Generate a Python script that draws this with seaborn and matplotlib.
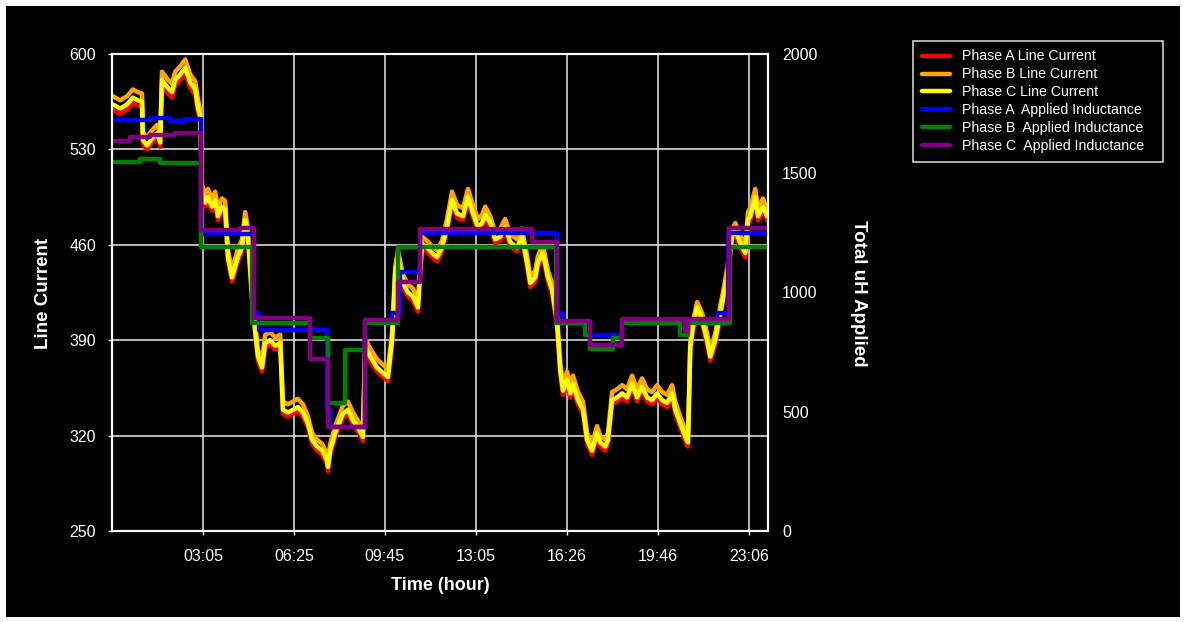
import seaborn as sns
import matplotlib.pyplot as plt
from matplotlib.patches import Rectangle

# time axis in minutes from midnight (chart starts a little before 00:00)
current_minutes = [
    -13, 3, 18, 31, 42, 51, 53, 62, 73, 84,
    91, 95, 106, 117, 124, 135, 146, 157, 168, 174,
    179, 183, 190, 196, 205, 212, 218, 227, 234, 240,
    249, 256, 262, 271, 278, 284, 293, 300, 306, 315,
    322, 333, 344, 355, 361, 372, 383, 394, 405, 416,
    425, 436, 447, 458, 460, 465, 476, 493, 504, 515,
    526, 537, 542, 553, 568, 581, 592, 601, 608, 614,
    625, 636, 647, 658, 667, 678, 689, 700, 711, 722,
    733, 744, 757, 768, 779, 790, 799, 806, 817, 828,
    839, 850, 861, 876, 887, 898, 905, 916, 922, 933,
    944, 953, 964, 971, 977, 986, 993, 999, 1010, 1021,
    1030, 1041, 1052, 1059, 1070, 1076, 1085, 1096, 1107, 1118,
    1129, 1140, 1151, 1162, 1173, 1184, 1195, 1206, 1217, 1224,
    1235, 1246, 1252, 1257, 1263, 1272, 1283, 1294, 1301, 1312,
    1323, 1334, 1341, 1349, 1356, 1367, 1378, 1384, 1389, 1400,
    1406, 1417, 1426,
]

phase_a_current = [
    559, 556, 559, 564, 562, 561, 534, 530, 535, 539,
    532, 577, 572, 568, 577, 581, 586, 575, 570, 557,
    551, 495, 488, 492, 485, 490, 478, 485, 483, 448,
    433, 441, 448, 455, 475, 463, 419, 394, 375, 367,
    385, 387, 383, 385, 336, 334, 336, 338, 334, 326,
    314, 309, 306, 299, 294, 306, 319, 333, 336, 328,
    323, 316, 382, 375, 367, 363, 360, 387, 436, 448,
    429, 422, 419, 411, 458, 455, 451, 448, 455, 470,
    490, 480, 478, 492, 480, 470, 473, 479, 473, 461,
    463, 470, 459, 455, 463, 444, 429, 433, 444, 451,
    433, 424, 400, 365, 350, 358, 348, 355, 343, 336,
    314, 306, 319, 312, 309, 314, 343, 345, 348, 345,
    355, 345, 353, 345, 343, 348, 343, 341, 348, 336,
    326, 316, 312, 382, 397, 411, 402, 387, 375, 387,
    407, 426, 441, 463, 468, 458, 451, 475, 478, 492,
    478, 485, 478,
]

phase_b_current = [
    569, 566, 569, 574, 572, 571, 542, 539, 544, 548,
    541, 587, 582, 578, 587, 591, 596, 585, 580, 567,
    559, 504, 497, 501, 494, 499, 487, 494, 492, 456,
    441, 450, 457, 464, 484, 472, 427, 402, 383, 375,
    394, 396, 392, 394, 345, 343, 345, 347, 343, 334,
    322, 317, 314, 307, 302, 314, 327, 342, 345, 337,
    331, 324, 391, 384, 376, 372, 369, 395, 444, 456,
    438, 431, 428, 419, 466, 463, 459, 456, 463, 479,
    499, 489, 487, 501, 489, 479, 482, 488, 481, 469,
    472, 479, 468, 464, 472, 452, 437, 441, 452, 460,
    441, 432, 408, 373, 358, 367, 357, 364, 352, 345,
    322, 314, 327, 320, 317, 322, 352, 354, 357, 354,
    364, 354, 362, 354, 352, 357, 352, 350, 357, 345,
    334, 324, 319, 389, 404, 418, 410, 395, 383, 395,
    415, 434, 449, 471, 476, 467, 460, 484, 487, 501,
    487, 494, 487,
]

phase_c_current = [
    563, 560, 563, 568, 566, 565, 537, 533, 538, 542,
    535, 581, 576, 572, 581, 585, 590, 579, 574, 561,
    554, 498, 491, 495, 488, 493, 481, 488, 486, 451,
    436, 444, 451, 458, 478, 466, 422, 397, 378, 370,
    388, 390, 386, 388, 339, 337, 339, 341, 337, 329,
    317, 312, 309, 302, 297, 309, 322, 336, 339, 331,
    326, 319, 385, 378, 370, 366, 363, 390, 439, 451,
    432, 425, 422, 414, 461, 458, 454, 451, 458, 473,
    493, 483, 481, 495, 483, 473, 476, 482, 476, 464,
    466, 473, 462, 458, 466, 447, 432, 436, 447, 454,
    436, 427, 403, 368, 353, 361, 351, 358, 346, 339,
    317, 309, 322, 315, 312, 317, 346, 348, 351, 348,
    358, 348, 356, 348, 346, 351, 346, 344, 351, 339,
    329, 319, 315, 385, 400, 414, 405, 390, 378, 390,
    410, 429, 444, 466, 471, 461, 454, 478, 481, 495,
    481, 488, 481,
]

# applied inductance (uH), value holds from each time until the next one
phase_a_uh_minutes = [-15, 69, 113, 146, 181, 295, 308, 458, 465, 542,
                      601, 619, 663, 964, 977, 1037, 1107, 1316, 1340, 1428]
phase_a_uh = [1723, 1731, 1720, 1728, 1245, 914, 843, 507, 436, 885,
              914, 1086, 1250, 914, 876, 822, 876, 914, 1250, 1250]

phase_b_uh_minutes = [-15, 47, 91, 181, 293, 421, 460, 498, 542, 614,
                      962, 1026, 1037, 1087, 1107, 1235, 1252, 1345, 1428]
phase_b_uh = [1547, 1560, 1543, 1191, 872, 809, 537, 759, 872, 1191,
              872, 822, 763, 809, 872, 822, 872, 1191, 1191]

phase_c_uh_minutes = [-15, 25, 69, 124, 181, 267, 297, 421, 460, 542,
                      614, 663, 909, 964, 1037, 1107, 1246, 1252, 1342, 1428]
phase_c_uh = [1635, 1652, 1660, 1669, 1262, 1270, 893, 721, 436, 885,
              1044, 1266, 1212, 880, 780, 889, 840, 889, 1270, 1270]

tick_minutes = [185, 385, 585, 785, 986, 1186, 1386]
tick_labels = ["03:05", "06:25", "09:45", "13:05", "16:26", "19:46", "23:06"]

sns.set_theme(style="dark", rc={
    "axes.facecolor": "black",
    "axes.edgecolor": "white",
    "grid.color": "#d8d8d8",
    "text.color": "white",
    "xtick.color": "white",
    "ytick.color": "white",
})
plt.rcParams['font.family'] = ['Liberation Sans', 'DejaVu Sans']

W, H = 1187, 622
fig = plt.figure(figsize=(W / 100, H / 100), dpi=100, facecolor="white")
fig.patches.append(Rectangle((6 / W, 5 / H), 1174 / W, 611 / H,
                             transform=fig.transFigure, facecolor="black",
                             edgecolor="none", zorder=-10))

ax = fig.add_axes([112 / W, (H - 531) / H, 656 / W, 477 / H])
ax2 = ax.twinx()
ax2.patch.set_visible(False)

lw = 3.2
sns.lineplot(x=current_minutes, y=phase_a_current, ax=ax, color="#ff0000",
             lw=lw, label="Phase A Line Current")
sns.lineplot(x=current_minutes, y=phase_b_current, ax=ax, color="#ffa500",
             lw=lw, label="Phase B Line Current")
sns.lineplot(x=current_minutes, y=phase_c_current, ax=ax, color="#ffff00",
             lw=lw, label="Phase C Line Current")

sns.lineplot(x=phase_a_uh_minutes, y=phase_a_uh, ax=ax2, color="#0000ff",
             lw=lw, drawstyle="steps-post", label="Phase A  Applied Inductance")
sns.lineplot(x=phase_b_uh_minutes, y=phase_b_uh, ax=ax2, color="#008000",
             lw=lw, drawstyle="steps-post", label="Phase B  Applied Inductance")
sns.lineplot(x=phase_c_uh_minutes, y=phase_c_uh, ax=ax2, color="#800080",
             lw=lw, drawstyle="steps-post", label="Phase C  Applied Inductance")

h1, l1 = ax.get_legend_handles_labels()
h2, l2 = ax2.get_legend_handles_labels()
for a in (ax, ax2):
    if a.get_legend() is not None:
        a.get_legend().remove()

ax.set_xlim(-15, 1428)
ax.set_ylim(250, 600)
ax2.set_ylim(0, 2000)
ax.set_xticks(tick_minutes)
ax.set_xticklabels(tick_labels)
ax.set_yticks(range(250, 601, 70))
ax2.set_yticks([0, 500, 1000, 1500, 2000])
ax.set_xlabel("")
ax.set_ylabel("")
ax2.set_ylabel("")

ax.grid(True, color="#d8d8d8", lw=1.2)
ax2.grid(False)
for a in (ax, ax2):
    for s in a.spines.values():
        s.set_color("white")
        s.set_linewidth(1.5)
ax.tick_params(axis="both", colors="white", labelsize=11.5, length=3,
               width=1, left=True, bottom=True)
ax.tick_params(axis="y", pad=8.5)
ax.tick_params(axis="x", pad=10)
ax2.tick_params(axis="y", colors="white", labelsize=11.5, length=0, pad=10,
                right=True)

fig.text(440 / W, 1 - 586 / H, "Time (hour)", ha="center", va="center",
         fontsize=13, fontweight="bold", color="white")
fig.text(44 / W, 1 - 293 / H, "Line Current", ha="center", va="center",
         rotation=90, fontsize=13.5, fontweight="bold", color="white")
fig.text(858 / W, 1 - 293 / H, "Total uH Applied", ha="center", va="center",
         rotation=270, fontsize=13.5, fontweight="bold", color="white")

leg = fig.legend(h1 + h2, l1 + l2, loc="upper left", mode="expand",
                 bbox_to_anchor=(913 / W, 1 - 165 / H, 250 / W, 124 / H),
                 frameon=True, facecolor="black", edgecolor="white",
                 fontsize=10.2, labelcolor="white", handlelength=2.0,
                 handletextpad=0.85, labelspacing=0.28, borderpad=0.6,
                 fancybox=False, borderaxespad=0)
leg.get_frame().set_linewidth(1.2)

fig.savefig("out.png", dpi=100, facecolor="white")
